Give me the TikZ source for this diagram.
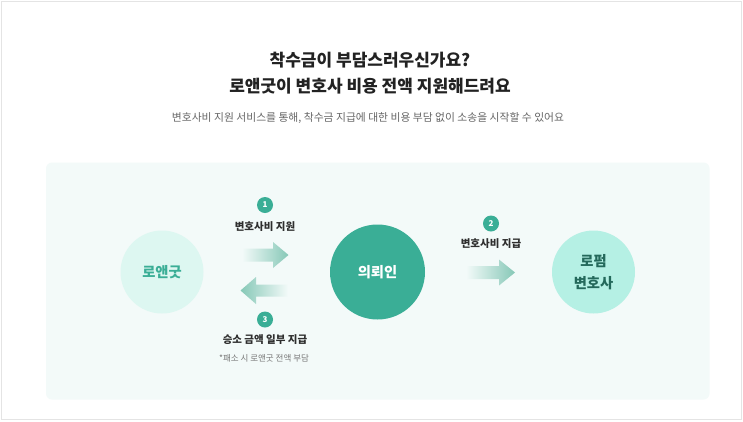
\documentclass[tikz,border=0pt]{standalone}
\usepackage{fontspec}
\setmainfont{Noto Sans CJK KR}
\definecolor{framec}{HTML}{E4E4E4}
\definecolor{panelc}{HTML}{F3FAF9}
\definecolor{tealc}{HTML}{3AAE96}
\definecolor{leftc}{HTML}{DDF7F1}
\definecolor{rightc}{HTML}{B5F0E4}
\definecolor{darkteal}{HTML}{24695B}
\definecolor{arrowc}{HTML}{86C8B7}
\definecolor{titlec}{HTML}{222222}
\definecolor{subc}{HTML}{666666}
\definecolor{labelc}{HTML}{2E2E2E}
\definecolor{notec}{HTML}{777777}
\tikzset{
  bigcircle/.style={circle, inner sep=0pt, font=\bfseries\fontsize{14.3}{22}\selectfont, align=center},
  badge/.style={circle, fill=tealc, inner sep=0pt, minimum size=16pt, text=white, font=\bfseries\fontsize{8}{8}\selectfont},
  steplabel/.style={text=labelc, font=\bfseries\fontsize{10.5}{12}\selectfont, inner sep=0pt},
  notelabel/.style={text=notec, font=\fontsize{8.5}{10}\selectfont, inner sep=0pt},
}
\begin{document}
\begin{tikzpicture}[x=1pt,y=-1pt]
\useasboundingbox (0,0) rectangle (743,421);
\fill[white] (0,0) rectangle (743,421);
\draw[framec, line width=1pt] (1,1) rectangle (741,419.5);
\fill[panelc, rounded corners=6pt] (46,162.5) rectangle (709.5,399.5);

\node[text=titlec, font=\bfseries\fontsize{17}{20}\selectfont] (t1) at (370,60) {착수금이 부담스러우신가요?};
\node[text=titlec, font=\bfseries\fontsize{17}{20}\selectfont] (t2) at (370,86) {로앤굿이 변호사 비용 전액 지원해드려요};
\node[text=subc, font=\fontsize{10.8}{12}\selectfont] (sub) at (368,118) {변호사비 지원 서비스를 통해, 착수금 지급에 대한 비용 부담 없이 소송을 시작할 수 있어요};

\node[bigcircle, fill=leftc, minimum size=83pt, text=tealc] (lawngood) at (162,272) {로앤굿};
\node[bigcircle, fill=tealc, minimum size=95pt, text=white] (client) at (377.5,272) {의뢰인};
\node[bigcircle, fill=rightc, minimum size=83pt, text=darkteal] (firm) at (593.5,272) {로펌\\변호사};

% arrows
\shade[left color=panelc, right color=arrowc] (242,248.5) -- (273,248.5) -- (273,242) -- (288.5,255) -- (273,268) -- (273,261.5) -- (242,261.5) -- cycle;
\shade[left color=arrowc, right color=panelc] (288,284.5) -- (256,284.5) -- (256,277) -- (240.5,290.5) -- (256,304) -- (256,296.5) -- (288,296.5) -- cycle;
\shade[left color=panelc, right color=arrowc] (466,266) -- (499,266) -- (499,259.5) -- (515,272.5) -- (499,285.5) -- (499,279) -- (466,279) -- cycle;

\node[badge] (b1) at (265,205) {1};
\node[steplabel] (l1) at (265,226.5) {변호사비 지원};
\node[badge] (b3) at (265,319.5) {3};
\node[steplabel] (l3) at (265,340) {승소 금액 일부 지급};
\node[notelabel] (n3) at (264,358) {*패소 시 로앤굿 전액 부담};
\node[badge] (b2) at (491,223.5) {2};
\node[steplabel] (l2) at (491,244) {변호사비 지급};
\end{tikzpicture}
\end{document}
